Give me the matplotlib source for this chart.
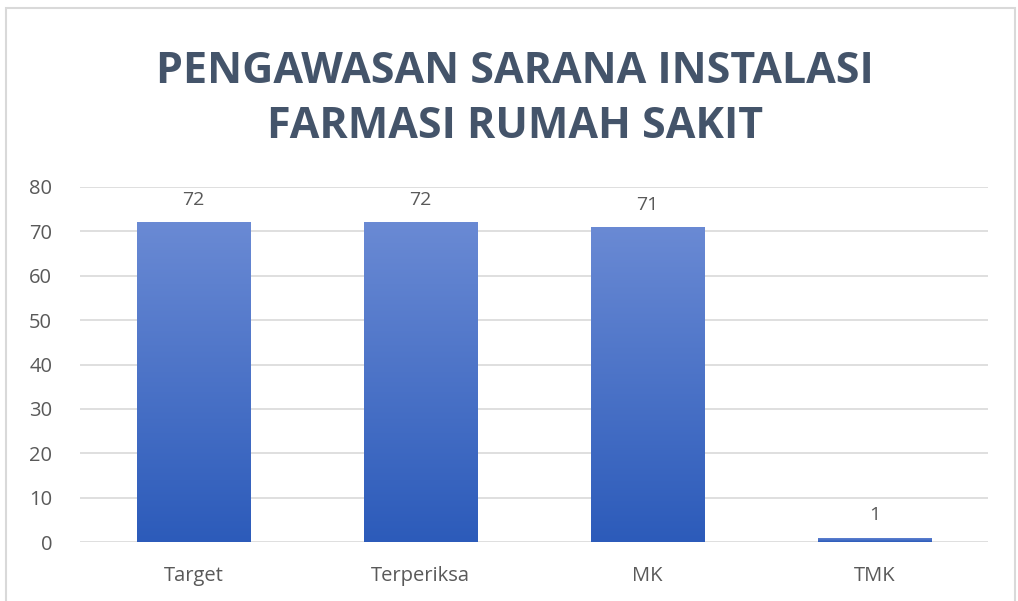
import numpy as np
import matplotlib.pyplot as plt
from matplotlib.colors import LinearSegmentedColormap
from matplotlib.patches import Rectangle

kategori = ['Target', 'Terperiksa', 'MK', 'TMK']
nilai = [72, 72, 71, 1]
judul = 'PENGAWASAN SARANA INSTALASI\nFARMASI RUMAH SAKIT'

teks_warna = '#595959'
grid_warna = '#D9D9D9'
gradien = LinearSegmentedColormap.from_list('biru', ['#2C5BBA', '#6A8AD4'])

fig = plt.figure(figsize=(10.18, 6.01), dpi=100)
ax = fig.add_axes([80 / 1018, 1 - 542 / 601, 908 / 1018, 355 / 601])

# bingkai grafik
fig.patches.append(Rectangle((6 / 1018, -0.02), 1009 / 1018, 1 - 8 / 601 + 0.02,
                             transform=fig.transFigure, fill=False,
                             edgecolor='#D9D9D9', linewidth=1.5))

x = np.arange(len(kategori))
lebar = 0.5
bars = ax.bar(x, nilai, width=lebar, color='none', edgecolor='none', zorder=3)
grad = np.linspace(0, 1, 256).reshape(-1, 1)
for b in bars:
    x0, y0 = b.get_x(), b.get_y()
    w, h = b.get_width(), b.get_height()
    im = ax.imshow(grad, cmap=gradien, aspect='auto', origin='lower',
                   extent=[x0, x0 + w, y0, y0 + h], zorder=3)
    im.set_clip_path(b)

for xi, v in zip(x, nilai):
    ax.text(xi, v + 3.0, str(v), ha='center', va='bottom',
            fontsize=14, color=teks_warna, family='Open Sans')

ax.set_xlim(-0.5, len(kategori) - 0.5)
ax.set_ylim(0, 80)
ax.set_yticks(np.arange(0, 81, 10))
ax.set_xticks(x)
ax.set_xticklabels(kategori)
ax.grid(axis='y', color=grid_warna, linewidth=1.2, zorder=0)
ax.set_axisbelow(True)
for s in ax.spines.values():
    s.set_visible(False)
ax.tick_params(length=0, labelsize=14.5, colors=teks_warna, pad=17)
for lbl in ax.get_xticklabels() + ax.get_yticklabels():
    lbl.set_family('Open Sans')
ax.tick_params(axis='y', pad=20)

fig.text(515 / 1018, 1 - 99 / 601, judul, ha='center', va='center',
         fontsize=31, fontweight='bold', color='#44546A', family='Open Sans',
         linespacing=1.35)

fig.savefig('out.png', dpi=100)
